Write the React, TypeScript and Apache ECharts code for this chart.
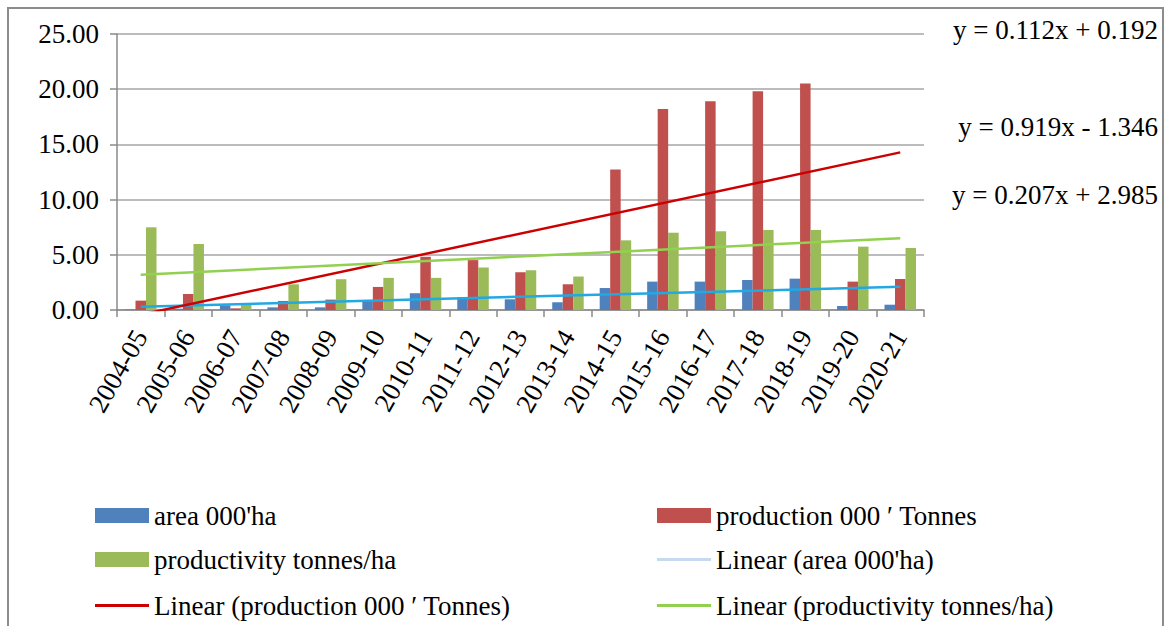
import React, { useEffect, useRef } from "react";
import * as echarts from "echarts";

const categories = [
  "2004-05", "2005-06", "2006-07", "2007-08", "2008-09", "2009-10", "2010-11", "2011-12",
  "2012-13", "2013-14", "2014-15", "2015-16", "2016-17", "2017-18", "2018-19", "2019-20", "2020-21",
];
const areaValues = [0.05, 0.12, 0.42, 0.24, 0.24, 0.82, 1.52, 1.15, 0.97, 0.7, 1.99, 2.57, 2.57, 2.72, 2.84, 0.36, 0.48];
const productionValues = [0.85, 1.45, 0.15, 0.82, 0.94, 2.09, 4.82, 4.52, 3.42, 2.33, 12.73, 18.2, 18.9, 19.82, 20.52, 2.57, 2.81];
const productivityValues = [7.49, 5.98, 0.45, 2.33, 2.79, 2.91, 2.91, 3.85, 3.6, 3.03, 6.31, 7.0, 7.13, 7.25, 7.25, 5.74, 5.62];

const yMin = 0;
const yMax = 25;
const yInterval = 5;

const seriesNames = ["area 000'ha", "production 000 \u2032 Tonnes", "productivity tonnes/ha"];
const trendNames = ["Linear (area 000'ha)", "Linear (production 000 \u2032 Tonnes)", "Linear (productivity tonnes/ha)"];
const trendSlopes = [0.112, 0.919, 0.207];
const trendIntercepts = [0.192, -1.346, 2.985];
const equationLabels = ["y = 0.112x + 0.192", "y = 0.919x - 1.346", "y = 0.207x + 2.985"];

const barColors = ["#4f81bd", "#c0504d", "#9bbb59"];
const trendColors = ["#22a8e3", "#cc0000", "#92d050"];
const trendLegendColors = ["#c6d9f1", "#cc0000", "#92d050"];

const FONT = "Liberation Serif";

export default function App() {
  const ref = useRef<HTMLDivElement>(null);
  useEffect(() => {
    if (!ref.current) return;
    const chart = echarts.init(ref.current, null, { renderer: "svg" });
    const barData = [areaValues, productionValues, productivityValues];
    const n = categories.length;
    const trendData = trendSlopes.map((s, i) => [
      [0, s * 1 + trendIntercepts[i]],
      [n - 1, s * n + trendIntercepts[i]],
    ]);

    const legendPos = [
      { left: 95, top: 502 },
      { left: 657, top: 502 },
      { left: 95, top: 546 },
      { left: 657, top: 546 },
      { left: 95, top: 592 },
      { left: 657, top: 592 },
    ];
    const legendItems = [
      { name: seriesNames[0], h: 15, color: barColors[0] },
      { name: seriesNames[1], h: 15, color: barColors[1] },
      { name: seriesNames[2], h: 15, color: barColors[2] },
      { name: trendNames[0], h: 3, color: trendLegendColors[0] },
      { name: trendNames[1], h: 3, color: trendLegendColors[1] },
      { name: trendNames[2], h: 3, color: trendLegendColors[2] },
    ];

    const option: any = {
      animation: false,
      backgroundColor: "#ffffff",
      grid: { left: 117, right: 244, top: 34, bottom: 316, containLabel: false },
      xAxis: {
        type: "category",
        data: categories,
        boundaryGap: true,
        axisLine: { show: true, lineStyle: { color: "#8a8a8a", width: 1.5 } },
        axisTick: { show: true, alignWithLabel: false, length: 7, lineStyle: { color: "#8a8a8a", width: 1.5 } },
        axisLabel: {
          rotate: 60,
          interval: 0,
          margin: 22,
          color: "#000",
          fontFamily: FONT,
          fontSize: 27,
        },
        splitLine: { show: false },
      },
      yAxis: {
        type: "value",
        min: yMin,
        max: yMax,
        interval: yInterval,
        axisLine: { show: true, lineStyle: { color: "#8a8a8a", width: 1.5 } },
        axisTick: { show: true, inside: false, length: 7, lineStyle: { color: "#8a8a8a", width: 1.5 } },
        axisLabel: {
          margin: 18,
          color: "#000",
          fontFamily: FONT,
          fontSize: 27,
          formatter: (v: number) => v.toFixed(2),
        },
        splitLine: { show: true, lineStyle: { color: "#a6a6a6", width: 1.5 } },
      },
      legend: legendItems.map((it, i) => ({
        left: legendPos[i].left,
        top: legendPos[i].top,
        data: [{ name: it.name, itemStyle: { color: it.color } }],
        icon: "rect",
        itemWidth: 54,
        itemHeight: it.h,
        textStyle: { color: "#000", fontFamily: FONT, fontSize: 27 },
        selectedMode: false,
        padding: 0,
      })),
      series: [
        ...barData.map((d, i) => ({
          name: seriesNames[i],
          type: "bar",
          data: d,
          barWidth: 10.5,
          barGap: "0%",
          itemStyle: { color: barColors[i] },
          z: 2,
        })),
        ...trendData.map((d, i) => ({
          name: trendNames[i],
          type: "line",
          data: d,
          showSymbol: false,
          symbol: "none",
          clip: true,
          lineStyle: { color: trendColors[i], width: 2.5 },
          itemStyle: { color: trendColors[i] },
          z: 5,
        })),
      ],
      graphic: [
        {
          type: "rect",
          shape: { x: 8, y: 8, width: 1155, height: 700 },
          style: { fill: "none", stroke: "#8c8c8c", lineWidth: 2 },
          z: -1,
          silent: true,
        },
        ...equationLabels.map((t, i) => ({
          type: "text",
          x: 1158,
          y: [30, 127, 195][i],
          style: {
            text: t,
            fill: "#000",
            font: `27px "${FONT}"`,
            textAlign: "right",
            textVerticalAlign: "middle",
          },
          silent: true,
        })),
      ],
    };
    chart.setOption(option);
    return () => chart.dispose();
  }, []);
  return (
    <div
      ref={ref}
      style={{ position: "fixed", left: 0, top: 0, width: 1168, height: 626, background: "#fff" }}
    />
  );
}
